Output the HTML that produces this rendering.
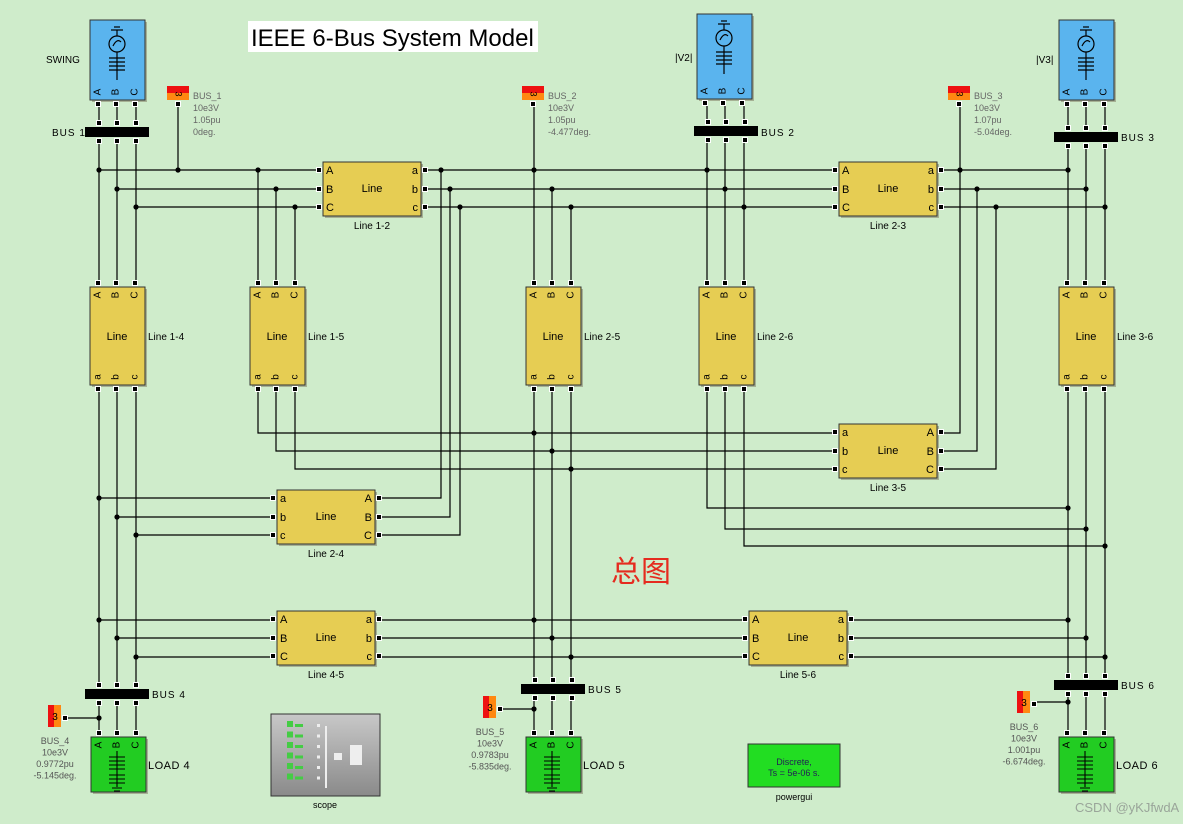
<!DOCTYPE html>
<html><head><meta charset="utf-8"><style>
html,body{margin:0;padding:0;background:#cfeccb;}
svg{display:block;font-family:"Liberation Sans",Arial,sans-serif;}
</style></head><body>
<svg id="s" width="1183" height="824" viewBox="0 0 1183 824" xmlns="http://www.w3.org/2000/svg">
<rect width="1183" height="824" fill="#cfeccb"/>
<g id="wires" stroke="#000" stroke-width="1.2" fill="none"></g>
<g id="blocks"></g>
<g id="dots" fill="#000"></g>
<rect x="248" y="21" width="290" height="31" fill="#fff"/>
<text x="251" y="46" font-size="24" fill="#000">IEEE 6-Bus System Model</text>
<text x="611" y="582" font-size="30" fill="#e52b1f" font-family="Noto Sans CJK SC, sans-serif">总图</text>
<text x="1075" y="812" font-size="13" fill="#9aa59a">CSDN @yKJfwdA</text>
</svg>
<script>
var W=document.getElementById('wires'),B=document.getElementById('blocks'),D=document.getElementById('dots');
var wh='',bh='',dh='';
function w(p){wh+='<polyline points="'+p+'"/>';}
function d(x,y){dh+='<circle cx="'+x+'" cy="'+y+'" r="2.6"/>';}
function port(x,y){bh+='<rect x="'+(x-3)+'" y="'+(y-3)+'" width="6" height="6" fill="#fff"/><rect x="'+(x-2)+'" y="'+(y-2)+'" width="4" height="4" fill="#000"/>';}
function t(x,y,s,sz,anc,col,extra){bh+='<text x="'+x+'" y="'+y+'" font-size="'+(sz||11)+'" text-anchor="'+(anc||'start')+'" fill="'+(col||'#000')+'" '+(extra||'')+'>'+s+'</text>';}
function box(x,y,ww,hh,fill){bh+='<rect x="'+(x+2)+'" y="'+(y+2)+'" width="'+ww+'" height="'+hh+'" fill="#8a8a70" opacity="0.6"/><rect x="'+x+'" y="'+y+'" width="'+ww+'" height="'+hh+'" fill="'+fill+'" stroke="#333" stroke-width="1"/>';}
function rotlab(x,y,s){bh+='<text x="'+x+'" y="'+y+'" font-size="10" text-anchor="middle" transform="rotate(-90 '+x+' '+y+')" dominant-baseline="middle">'+s+'</text>';}
var Y='#e6cd53';
// horizontal line block
function hb(x,y,name,L,R){box(x,y,98,54,Y);var ys=[y+8,y+27,y+45];
 for(var i=0;i<3;i++){port(x-4,ys[i]);port(x+102,ys[i]);t(x+3,ys[i]+4,L[i],11);t(x+95,ys[i]+4,R[i],11,'end');}
 t(x+49,y+30,'Line',11,'middle');t(x+49,y+67,name,10,'middle');}
function vb(x,y,name){box(x,y,55,98,Y);var xs=[x+8,x+26,x+45];var U=['A','B','C'],Lo=['a','b','c'];
 for(var i=0;i<3;i++){port(xs[i],y-4);port(xs[i],y+102);rotlab(xs[i],y+8,U[i]);rotlab(xs[i],y+90,Lo[i]);}
 t(x+27,y+53,'Line',11,'middle');t(x+58,y+53,name,10);}
function src(x,y,h,lab,lx,ly){box(x,y,55,h,'#5ab4ee');var xs=[x+8,x+26,x+45];var U=['A','B','C'];
 for(var i=0;i<3;i++){port(xs[i],y+h+4);rotlab(xs[i],y+h-8,U[i]);}
 var cx=x+27;bh+='<g stroke="#000" fill="none" stroke-width="1.2"><line x1="'+(cx-6)+'" y1="'+(y+10)+'" x2="'+(cx+6)+'" y2="'+(y+10)+'"/><line x1="'+(cx-3)+'" y1="'+(y+7)+'" x2="'+(cx+3)+'" y2="'+(y+7)+'"/><line x1="'+cx+'" y1="'+(y+10)+'" x2="'+cx+'" y2="'+(y+16)+'"/><circle cx="'+cx+'" cy="'+(y+24)+'" r="8"/><path d="M'+(cx-4)+' '+(y+26)+' q4 -8 8 -4"/><line x1="'+cx+'" y1="'+(y+32)+'" x2="'+cx+'" y2="'+(y+60)+'"/><path d="M'+(cx-8)+' '+(y+38)+'h16M'+(cx-8)+' '+(y+42)+'h16M'+(cx-8)+' '+(y+46)+'h16M'+(cx-8)+' '+(y+50)+'h16"/></g>';
 t(lx,ly,lab,10);}
function bus(x,y,lab,lx,ly){bh+='<rect x="'+x+'" y="'+y+'" width="64" height="10" fill="#000"/>';var xs=[x+14,x+32,x+51];
 for(var i=0;i<3;i++){port(xs[i],y-4);port(xs[i],y+14);}t(lx,ly,lab,10,'start','#000','letter-spacing="1"');}
function load(x,y,lab){box(x,y,55,55,'#22cc22');var xs=[x+8,x+26,x+45];var U=['A','B','C'];
 for(var i=0;i<3;i++){port(xs[i],y-4);rotlab(xs[i],y+8,U[i]);}
 var cx=x+26;bh+='<g stroke="#000" fill="none" stroke-width="1.1"><path d="M'+(cx-8)+' '+(y+20)+'h16M'+(cx-8)+' '+(y+24)+'h16M'+(cx-8)+' '+(y+28)+'h16M'+(cx-8)+' '+(y+32)+'h16M'+(cx-8)+' '+(y+38)+'h16M'+(cx-8)+' '+(y+42)+'h16M'+(cx-8)+' '+(y+46)+'h16M'+cx+' '+(y+14)+'v36M'+(cx-5)+' '+(y+51)+'h10M'+(cx-3)+' '+(y+54)+'h6"/></g>';
 t(x+57,y+32,lab,11,'start','#000','letter-spacing="0.5"');}
function hsens(x,y,L){bh+='<rect x="'+x+'" y="'+y+'" width="22" height="7" fill="#ee1111"/><rect x="'+x+'" y="'+(y+7)+'" width="22" height="7" fill="#ff8811"/>';
 bh+='<text x="'+(x+11)+'" y="'+(y+8)+'" font-size="9" text-anchor="middle" dominant-baseline="middle" transform="rotate(90 '+(x+11)+' '+(y+8)+')">3</text>';port(x+11,y+18);
 for(var i=0;i<4;i++)t(x+26,y+13+i*12,L[i],9,'start','#666');}
function vsens(x,y,L){bh+='<rect x="'+x+'" y="'+y+'" width="6" height="22" fill="#ee1111"/><rect x="'+(x+6)+'" y="'+y+'" width="7" height="22" fill="#ff8811"/>';
 t(x+7,y+15,'3',10,'middle');port(x+17,y+13);
 for(var i=0;i<4;i++)t(x+7,y+39+i*11.5,L[i],9,'middle','#555');}
// wires
var P=[[99,117,136],[258,276,295],[534,552,571],[707,725,744],[1068,1086,1105]];
var HY=[170,189,207];
for(var i=0;i<3;i++){var a=P[0][i];w(a+',104 '+a+',122');w(a+',142 '+a+',283');w(a+',389 '+a+',685');w(a+',703 '+a+',733');}
for(var i=0;i<3;i++){var a=P[3][i];w(a+',103 '+a+',122');w(a+',141 '+a+',283');}
for(var i=0;i<3;i++){var a=P[4][i];w(a+',104 '+a+',128');w(a+',147 '+a+',283');w(a+',389 '+a+',676');w(a+',694 '+a+',733');}
for(var i=0;i<3;i++){var y=HY[i];w(P[0][i]+','+y+' 319,'+y);w('425,'+y+' 835,'+y);w('941,'+y+' '+P[4][i]+','+y);}
w('178,104 178,170');d(178,170);
for(var i=0;i<3;i++){d(P[0][i],HY[i]);d(P[1][i],HY[i]);w(P[1][i]+','+HY[i]+' '+P[1][i]+',283');}
var X12=[441,450,460],Y24=[498,517,535];
for(var i=0;i<3;i++){d(X12[i],HY[i]);w(X12[i]+','+HY[i]+' '+X12[i]+','+Y24[i]+' 379,'+Y24[i]);w(P[0][i]+','+Y24[i]+' 273,'+Y24[i]);d(P[0][i],Y24[i]);}
w('534,104 534,170');
for(var i=0;i<3;i++){d(P[2][i],HY[i]);w(P[2][i]+','+HY[i]+' '+P[2][i]+',283');d(P[3][i],HY[i]);d(P[4][i],HY[i]);}
var X23=[960,977,996],Y35=[433,451,469];
w('960,104 960,170');
for(var i=0;i<3;i++){d(X23[i],HY[i]);w(X23[i]+','+HY[i]+' '+X23[i]+','+Y35[i]+' 941,'+Y35[i]);
 w(P[1][i]+',389 '+P[1][i]+','+Y35[i]+' 835,'+Y35[i]);d(P[2][i],Y35[i]);}
for(var i=0;i<3;i++){var a=P[2][i];w(a+',389 '+a+',680');w(a+',698 '+a+',733');}
var Y26=[508,529,546];
for(var i=0;i<3;i++){w(P[3][i]+',389 '+P[3][i]+','+Y26[i]+' '+P[4][i]+','+Y26[i]);d(P[4][i],Y26[i]);}
var Y45=[620,638,657];
for(var i=0;i<3;i++){var y=Y45[i];w(P[0][i]+','+y+' 273,'+y);d(P[0][i],y);w('379,'+y+' 745,'+y);d(P[2][i],y);w('851,'+y+' '+P[4][i]+','+y);d(P[4][i],y);}
w('65,718 99,718');d(99,718);w('500,709 534,709');d(534,709);w('1034,702 1068,702');d(1068,702);
// blocks
src(90,20,80,'SWING',46,63);src(697,14,85,'|V2|',675,61);src(1059,20,80,'|V3|',1036,63);
bus(85,127,'BUS 1',52,136);bus(694,126,'BUS 2',761,136);bus(1054,132,'BUS 3',1121,141);
bus(85,689,'BUS 4',152,698);bus(521,684,'BUS 5',588,693);bus(1054,680,'BUS 6',1121,689);
hb(323,162,'Line 1-2',['A','B','C'],['a','b','c']);hb(839,162,'Line 2-3',['A','B','C'],['a','b','c']);
hb(839,424,'Line 3-5',['a','b','c'],['A','B','C']);hb(277,490,'Line 2-4',['a','b','c'],['A','B','C']);
hb(277,611,'Line 4-5',['A','B','C'],['a','b','c']);hb(749,611,'Line 5-6',['A','B','C'],['a','b','c']);
vb(90,287,'Line 1-4');vb(250,287,'Line 1-5');vb(526,287,'Line 2-5');vb(699,287,'Line 2-6');vb(1059,287,'Line 3-6');
load(91,737,'LOAD 4');load(526,737,'LOAD 5');load(1059,737,'LOAD 6');
hsens(167,86,['BUS_1','10e3V','1.05pu','0deg.']);hsens(522,86,['BUS_2','10e3V','1.05pu','-4.477deg.']);hsens(948,86,['BUS_3','10e3V','1.07pu','-5.04deg.']);
vsens(48,705,['BUS_4','10e3V','0.9772pu','-5.145deg.']);vsens(483,696,['BUS_5','10e3V','0.9783pu','-5.835deg.']);vsens(1017,691,['BUS_6','10e3V','1.001pu','-6.674deg.']);
// scope
bh+='<defs><linearGradient id="g" x1="0" y1="0" x2="0" y2="1"><stop offset="0" stop-color="#c8c8c8"/><stop offset="1" stop-color="#8a8a8a"/></linearGradient></defs>';
bh+='<rect x="271" y="714" width="109" height="82" fill="url(#g)" stroke="#333"/>';
for(var i=0;i<6;i++){var yy=723+i*10.5;bh+='<rect x="287" y="'+(yy-2)+'" width="6" height="6" fill="#4c4"/><rect x="295" y="'+(yy+1)+'" width="8" height="3" fill="#4c4"/><rect x="317" y="'+(yy+1)+'" width="3" height="3" fill="#eee"/>';}
bh+='<rect x="325" y="726" width="2" height="62" fill="#eee"/><rect x="334" y="753" width="8" height="7" fill="#eee"/><rect x="350" y="745" width="12" height="20" fill="#eee"/>';
t(325,808,'scope',9,'middle');
bh+='<rect x="748" y="744" width="92" height="43" fill="#22dd22" stroke="#333"/>';
t(794,765,'Discrete,',9,'middle','#225');t(794,776,'Ts = 5e-06 s.',9,'middle','#225');t(794,800,'powergui',9,'middle');
W.innerHTML=wh;B.innerHTML=bh;D.innerHTML=dh;
</script>
</body></html>
